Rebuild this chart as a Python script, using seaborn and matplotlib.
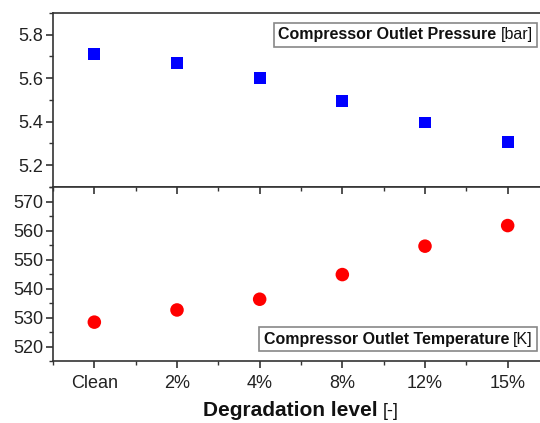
import matplotlib
matplotlib.use("Agg")
import matplotlib.pyplot as plt
import seaborn as sns
import pandas as pd
from matplotlib.offsetbox import AnchoredOffsetbox, HPacker, TextArea
from matplotlib.ticker import MultipleLocator

# Degradation cases and compressor outlet conditions
levels = ["Clean", "2%", "4%", "8%", "12%", "15%"]
pressure_bar = [5.712, 5.669, 5.600, 5.497, 5.397, 5.306]
temperature_K = [528.4, 532.6, 536.3, 544.8, 554.6, 561.7]

df = pd.DataFrame({"level": levels, "pressure": pressure_bar, "temperature": temperature_K})
df["pos"] = range(len(levels))

sns.set_theme(style="ticks")
plt.rcParams["font.family"] = ["Liberation Sans", "DejaVu Sans"]
spine_col = "#333333"
plt.rcParams.update({
    "axes.edgecolor": spine_col,
    "axes.linewidth": 1.2,
    "xtick.color": spine_col,
    "ytick.color": spine_col,
    "xtick.labelcolor": "#222222",
    "ytick.labelcolor": "#222222",
})

W, H = 540, 423
fig = plt.figure(figsize=(W / 100, H / 100), dpi=100)
fig.patch.set_facecolor("white")

left_px, right_px = 53, 549
top_px, mid_px, bot_px = 13, 187, 361
ax_w = (right_px - left_px) / W
ax_top = fig.add_axes([left_px / W, (H - mid_px) / H, ax_w, (mid_px - top_px) / H])
ax_bot = fig.add_axes([left_px / W, (H - bot_px) / H, ax_w, (bot_px - mid_px) / H], sharex=ax_top)

sns.scatterplot(data=df, x="pos", y="pressure", ax=ax_top, marker="s", s=72,
                color="#0000ff", edgecolor="none", legend=False)
sns.scatterplot(data=df, x="pos", y="temperature", ax=ax_bot, marker="o", s=95,
                color="#ff0000", edgecolor="none", legend=False)

ax_top.set_xlim(-0.5, len(levels) - 0.5)
ax_top.set_ylim(5.1, 5.9)
ax_bot.set_ylim(515, 575)

ax_top.yaxis.set_major_locator(MultipleLocator(0.2))
ax_top.yaxis.set_minor_locator(MultipleLocator(0.1))
ax_bot.yaxis.set_major_locator(MultipleLocator(10))
ax_bot.yaxis.set_minor_locator(MultipleLocator(5))
ax_bot.set_xticks(df["pos"])
ax_bot.set_xticklabels(levels)
ax_bot.xaxis.set_minor_locator(MultipleLocator(0.5))

tick_fs = 13
for ax in (ax_top, ax_bot):
    ax.set_xlabel("")
    ax.set_ylabel("")
    ax.tick_params(axis="y", which="major", direction="out", length=5, width=1.2, labelsize=tick_fs, pad=2)
    ax.tick_params(axis="y", which="minor", direction="out", length=3, width=1.0)
    for s in ax.spines.values():
        s.set_visible(True)

ax_top.tick_params(axis="x", which="both", bottom=False, top=False, labelbottom=False)
ax_bot.tick_params(axis="x", which="major", direction="out", length=5, width=1.2,
                   top=True, labeltop=False, labelsize=tick_fs, pad=5)
ax_bot.tick_params(axis="x", which="minor", direction="out", length=3, width=1.0, top=True)
# ticks along the shared boundary point down into the lower panel
for t in ax_bot.xaxis.get_major_ticks() + ax_bot.xaxis.get_minor_ticks():
    t.tick2line.set_marker(3)  # TICKDOWN at top edge


def boxed_label(ax, bold, normal, loc, anchor, fontsize=11.5):
    parts = [TextArea(bold, textprops=dict(fontsize=fontsize, fontweight="bold", color="#111111")),
             TextArea(normal, textprops=dict(fontsize=fontsize, color="#111111"))]
    box = AnchoredOffsetbox(loc=loc, child=HPacker(children=parts, align="baseline", pad=0, sep=3),
                            pad=0.28, borderpad=0, frameon=True,
                            bbox_to_anchor=anchor, bbox_transform=ax.transAxes)
    box.patch.set_edgecolor("#888888")
    box.patch.set_linewidth(1.2)
    box.patch.set_boxstyle("square,pad=0")
    ax.add_artist(box)
    return box


box_right = (537 - left_px) / (right_px - left_px)
boxed_label(ax_top, "Compressor Outlet Pressure", "[bar]", "upper right", (box_right, 1 - 10 / 174))
boxed_label(ax_bot, "Compressor Outlet Temperature", "[K]", "lower right", (box_right, 10 / 174))

# axis title below the lower panel
xl = [TextArea("Degradation level", textprops=dict(fontsize=15, fontweight="bold", color="#111111")),
      TextArea("[-]", textprops=dict(fontsize=13, color="#111111"))]
xbox = AnchoredOffsetbox(loc="center", child=HPacker(children=xl, align="baseline", pad=0, sep=4),
                         pad=0, borderpad=0, frameon=False,
                         bbox_to_anchor=(0.5, -(410 - bot_px) / 174), bbox_transform=ax_bot.transAxes)
ax_bot.add_artist(xbox)

fig.savefig("out.png", dpi=100, facecolor="white")
